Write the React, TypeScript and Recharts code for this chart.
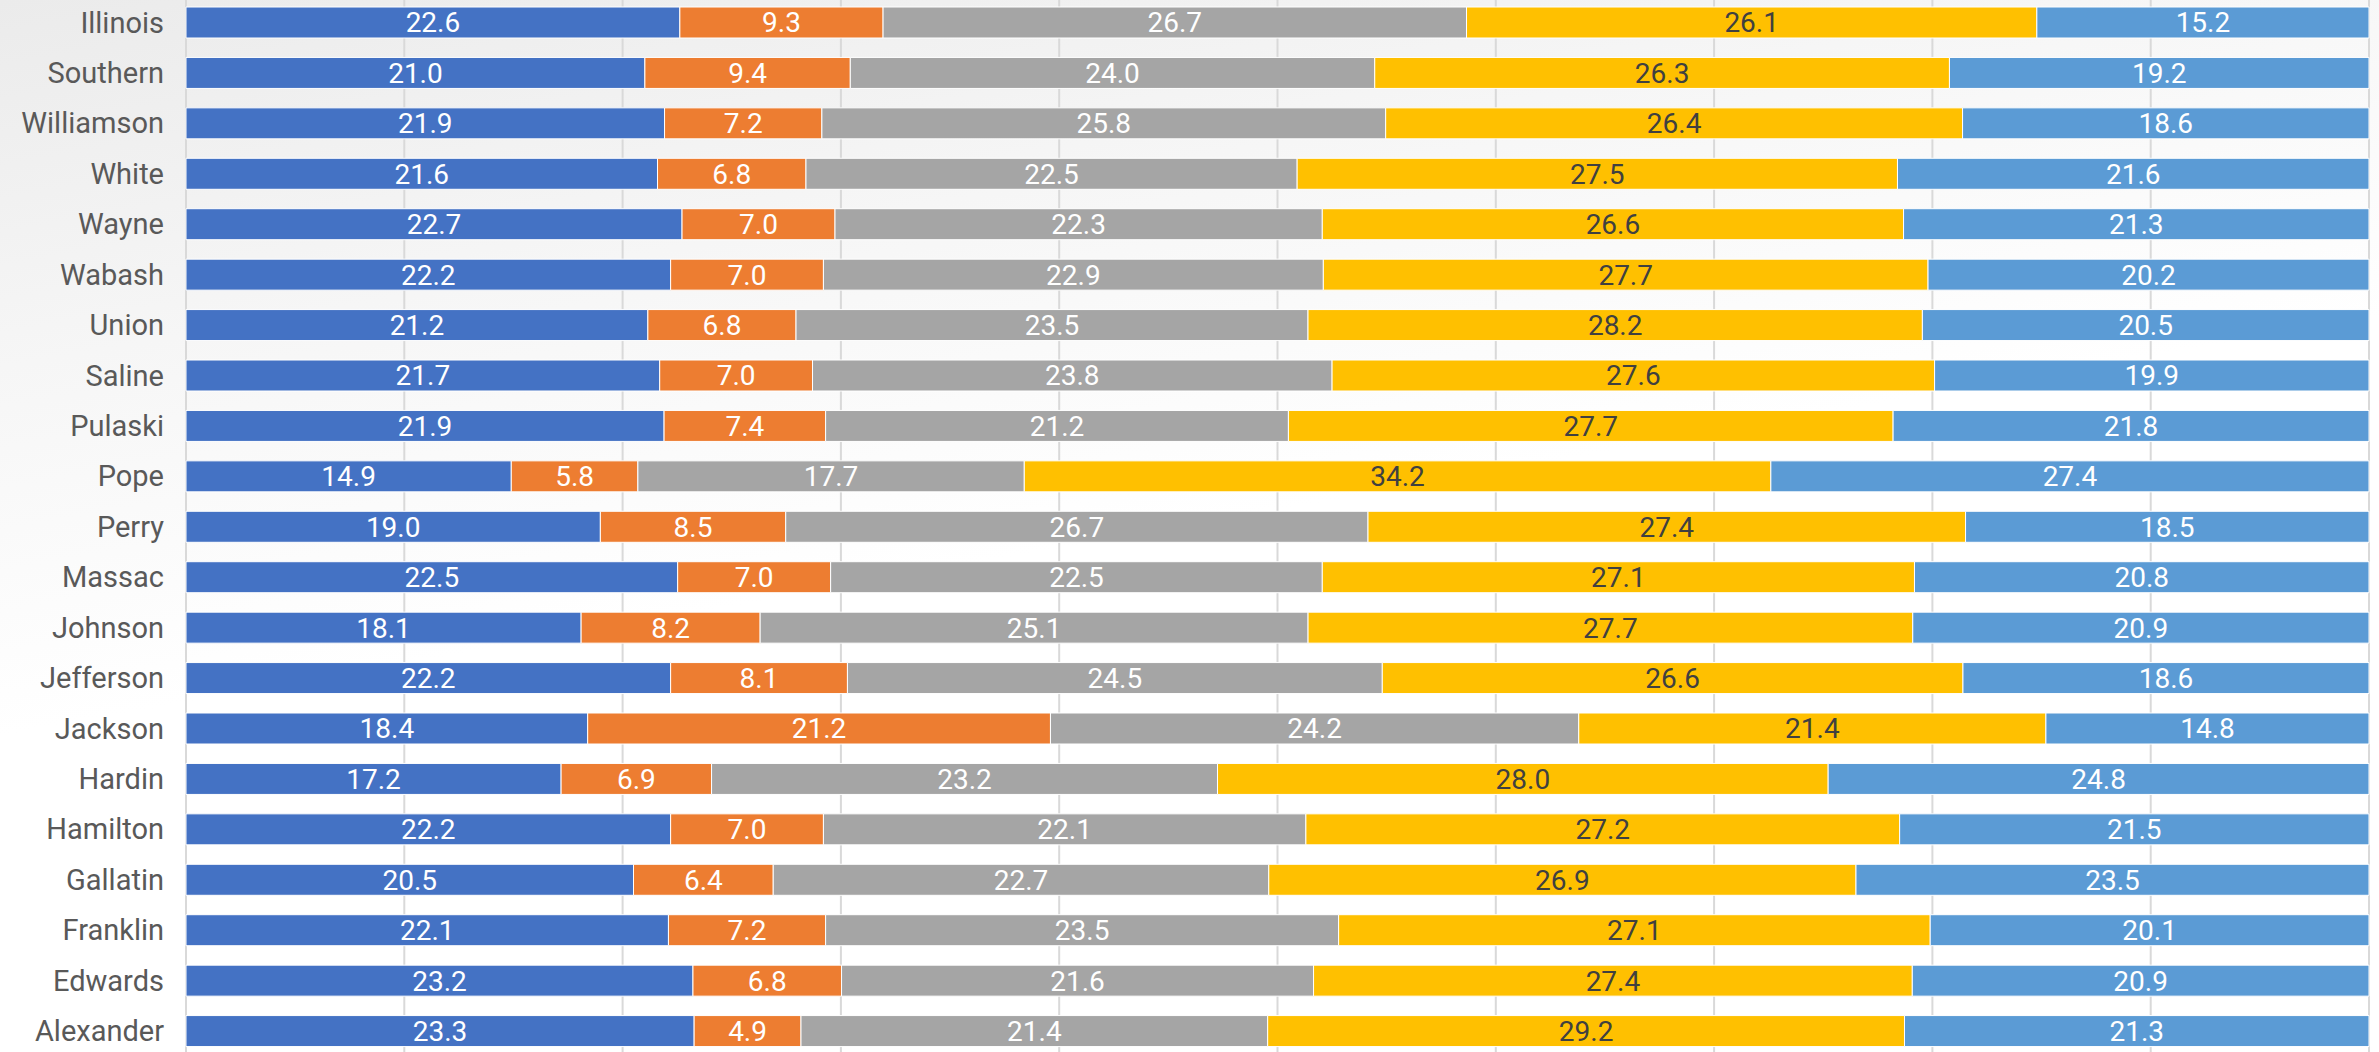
import { BarChart, Bar, XAxis, YAxis, CartesianGrid, LabelList } from 'recharts';

const counties = [
  'Illinois', 'Southern', 'Williamson', 'White', 'Wayne', 'Wabash', 'Union', 'Saline',
  'Pulaski', 'Pope', 'Perry', 'Massac', 'Johnson', 'Jefferson', 'Jackson', 'Hardin',
  'Hamilton', 'Gallatin', 'Franklin', 'Edwards', 'Alexander',
];

const s1 = [22.6, 21.0, 21.9, 21.6, 22.7, 22.2, 21.2, 21.7, 21.9, 14.9, 19.0, 22.5, 18.1, 22.2, 18.4, 17.2, 22.2, 20.5, 22.1, 23.2, 23.3];
const s2 = [9.3, 9.4, 7.2, 6.8, 7.0, 7.0, 6.8, 7.0, 7.4, 5.8, 8.5, 7.0, 8.2, 8.1, 21.2, 6.9, 7.0, 6.4, 7.2, 6.8, 4.9];
const s3 = [26.7, 24.0, 25.8, 22.5, 22.3, 22.9, 23.5, 23.8, 21.2, 17.7, 26.7, 22.5, 25.1, 24.5, 24.2, 23.2, 22.1, 22.7, 23.5, 21.6, 21.4];
const s4 = [26.1, 26.3, 26.4, 27.5, 26.6, 27.7, 28.2, 27.6, 27.7, 34.2, 27.4, 27.1, 27.7, 26.6, 21.4, 28.0, 27.2, 26.9, 27.1, 27.4, 29.2];
const s5 = [15.2, 19.2, 18.6, 21.6, 21.3, 20.2, 20.5, 19.9, 21.8, 27.4, 18.5, 20.8, 20.9, 18.6, 14.8, 24.8, 21.5, 23.5, 20.1, 20.9, 21.3];

const gridTicks = [0, 0.1, 0.2, 0.3, 0.4, 0.5, 0.6, 0.7, 0.8, 0.9, 1];

const data = counties.map((c, i) => ({ county: c, s1: s1[i], s2: s2[i], s3: s3[i], s4: s4[i], s5: s5[i] }));

const series = [
  { key: 's1', fill: '#4472C4', text: '#ffffff' },
  { key: 's2', fill: '#ED7D31', text: '#ffffff' },
  { key: 's3', fill: '#A5A5A5', text: '#ffffff' },
  { key: 's4', fill: '#FFC000', text: '#404040' },
  { key: 's5', fill: '#5B9BD5', text: '#ffffff' },
];

const font = '"Liberation Sans Narrow", "Arial Narrow", Roboto, sans-serif';

export default function App() {
  return (
    <div
      style={{
        position: 'fixed',
        left: 0,
        top: 0,
        width: 2379,
        height: 1052,
        overflow: 'hidden',
        background: 'linear-gradient(170deg, #ebebeb 0%, #f6f6f6 25%, #ffffff 50%, #ffffff 100%)',
      }}
    >
      <BarChart
        width={2379}
        height={1052}
        data={data}
        layout="vertical"
        stackOffset="expand"
        barSize={31}
        margin={{ top: -3, right: 10, bottom: -4, left: 0 }}
      >
        <CartesianGrid horizontal={false} stroke="#d9d9d9" strokeWidth={2} />
        <XAxis type="number" domain={[0, 1]} ticks={gridTicks} hide />
        <YAxis
          type="category"
          dataKey="county"
          width={186}
          axisLine={false}
          tickLine={false}
          tickMargin={16}
          tick={{ fill: '#595959', fontSize: 29, fontFamily: font }}
        />
        {series.map((s) => (
          <Bar key={s.key} dataKey={s.key} stackId="a" fill={s.fill} stroke="#ffffff" strokeWidth={1} isAnimationActive={false}>
            <LabelList
              dataKey={s.key}
              position="center"
              formatter={(v: any) => Number(v).toFixed(1)}
              fill={s.text}
              style={{ fontSize: 28, fontFamily: font }}
            />
          </Bar>
        ))}
      </BarChart>
    </div>
  );
}
